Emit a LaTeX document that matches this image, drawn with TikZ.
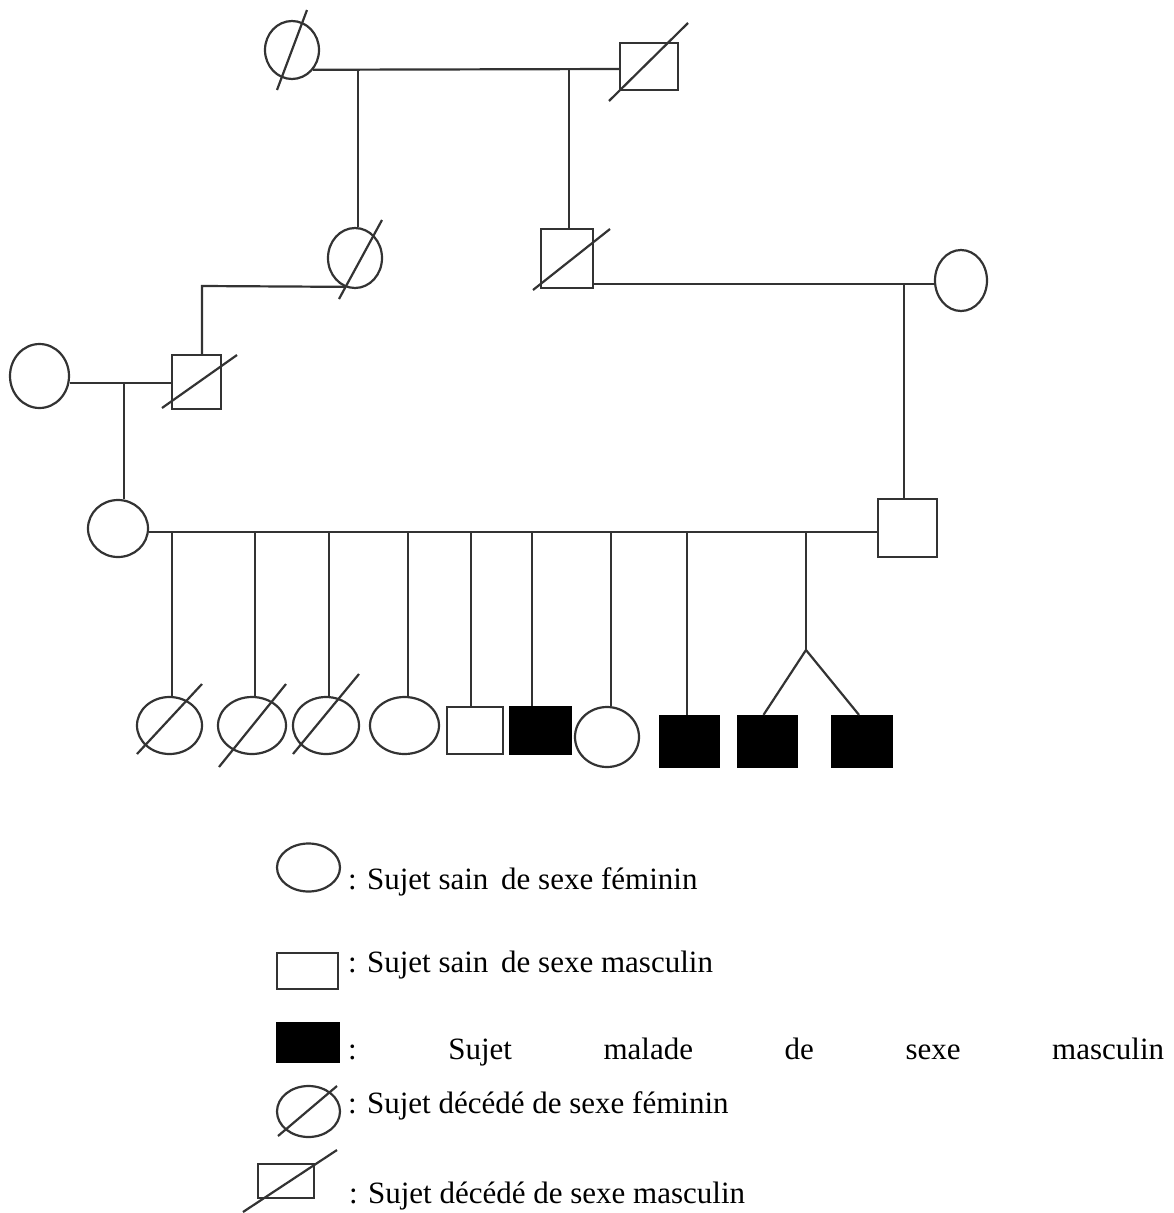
\documentclass[tikz,border=0pt]{standalone}
\usepackage{fontspec}
\setmainfont{Liberation Serif}
\usetikzlibrary{shapes.geometric}

\tikzset{
  fem/.style={ellipse, draw=black!80, fill=white, inner sep=0pt},
  mal/.style={rectangle, draw=black!80, fill=white, inner sep=0pt},
  sick/.style={mal, draw=black, fill=black},
  lbl/.style={anchor=base west, inner sep=0pt, text=black, font=\fontsize{31}{37}\selectfont}
}

\begin{document}
\begin{tikzpicture}[x=1pt, y=-1pt, line width=2.2pt, black!80]
    \useasboundingbox (0,0) rectangle (1174,1213);

    % generation I
    \node[fem, minimum width=54pt, minimum height=58pt] (gm1) at (292,50) {};
    \node[mal, minimum width=58pt, minimum height=47pt] (gf1) at (649,66.5) {};
    \coordinate (j1) at (358,69);
    \coordinate (j2) at (569,69);
    \draw (gm1.-43) -- (gf1.west |- j1);
    \draw (gm1.center) ++(-15,40) -- ++(30,-80);
    \draw (gf1.center) ++(-40,34.5) -- ++(79,-78);

    % generation II
    \node[fem, minimum width=54pt, minimum height=60pt] (d1) at (355,258) {};
    \node[mal, minimum width=52pt, minimum height=59pt] (s1) at (567,258.5) {};
    \node[fem, minimum width=52pt, minimum height=61pt] (w2) at (961,280.5) {};
    \node[mal, minimum width=49pt, minimum height=54pt] (h1) at (196.5,382) {};
    \node[fem, minimum width=59pt, minimum height=64pt] (w1) at (39.5,376) {};
    \draw (j1) -- (j1 |- d1.north);
    \draw (j2) -- (j2 |- s1.north);
    \draw (d1.center) ++(-16,41) -- ++(43,-79);
    \draw (s1.center) ++(-34,31.5) -- ++(77,-61);
    \draw (h1.center) ++(-34.5,26) -- ++(75,-53);
    \coordinate (j3) at (904,284);
    \coordinate (j4) at (202,286);
    \coordinate (j5) at (124,383);
    \draw (s1.east |- j3) -- (w2.west |- j3);
    \draw (d1.-110) -- (j4) -- (j4 |- h1.north);
    \draw (w1.east |- j5) -- (h1.west |- j5);

    % generation III
    \node[fem, minimum width=60pt, minimum height=57pt] (mo) at (118,528.5) {};
    \node[mal, minimum width=59pt, minimum height=58pt] (fa) at (907.5,528) {};
    \coordinate (sibs) at (500,532);
    \draw (j5) -- (j5 |- mo.north);
    \draw (j3) -- (j3 |- fa.north);
    \draw (mo.east |- sibs) -- (fa.west |- sibs);

    % children
    \node[fem, minimum width=65pt, minimum height=57pt] (c1) at (169.5,725.5) {};
    \node[fem, minimum width=68pt, minimum height=57pt] (c2) at (252,725.5) {};
    \node[fem, minimum width=66pt, minimum height=57pt] (c3) at (326,725.5) {};
    \node[fem, minimum width=69pt, minimum height=57pt] (c4) at (404.5,725.5) {};
    \node[mal, minimum width=56pt, minimum height=47pt] (c5) at (475,730.5) {};
    \node[sick, minimum width=61pt, minimum height=47pt] (c6) at (540.5,730.5) {};
    \node[fem, minimum width=64pt, minimum height=60pt] (c7) at (607,737) {};
    \node[sick, minimum width=59pt, minimum height=51pt] (c8) at (689.5,741.5) {};
    \node[sick, minimum width=59pt, minimum height=51pt] (c9) at (767.5,741.5) {};
    \node[sick, minimum width=60pt, minimum height=51pt] (c10) at (862,741.5) {};
    \foreach \c/\x in {c1/172, c2/255, c3/329, c4/408, c5/471, c6/532, c7/611, c8/687}
      \draw (sibs -| \x,0) -- (\c.north -| \x,0);
    \draw (c1.center) ++(-32.5,28.5) -- ++(65,-70);
    \draw (c2.center) ++(-33,41.5) -- ++(67,-83);
    \draw (c3.center) ++(-33,28.5) -- ++(66,-80);
    % twins
    \coordinate (tw) at (806,650);
    \draw (sibs -| tw) -- (tw);
    \draw (c9.north) ++(-4,0) -- (tw) -- ([xshift=-3pt]c10.north);

    % legend
    \node[fem, minimum width=63pt, minimum height=48pt] (lfem) at (308.5,867.5) {};
    \node[lbl] (tfem) at (347,889) {: Sujet sain\hspace{5pt} de sexe féminin};
    \node[mal, minimum width=61pt, minimum height=36pt] (lmal) at (307.5,971) {};
    \node[lbl] (tmal) at (347,972) {: Sujet sain\hspace{5pt} de sexe masculin};
    \node[sick, minimum width=62pt, minimum height=39pt] (lsick) at (308,1042.5) {};
    \node[lbl] (tsick) at (347,1059) {\frenchspacing\makebox[816pt][s]{: Sujet malade de sexe masculin}};
    \node[fem, minimum width=63pt, minimum height=51pt] (ldfem) at (308.5,1111.5) {};
    \draw (ldfem.center) ++(-30.5,24.5) -- ++(59,-50);
    \node[lbl] (tdfem) at (347,1113) {: Sujet décédé de sexe féminin};
    \node[mal, minimum width=56pt, minimum height=34pt] (ldmal) at (286,1181) {};
    \draw (ldmal.center) ++(-43,31) -- ++(94,-62);
    \node[lbl] (tdmal) at (348,1203) {: Sujet décédé de sexe masculin};
\end{tikzpicture}
\end{document}
